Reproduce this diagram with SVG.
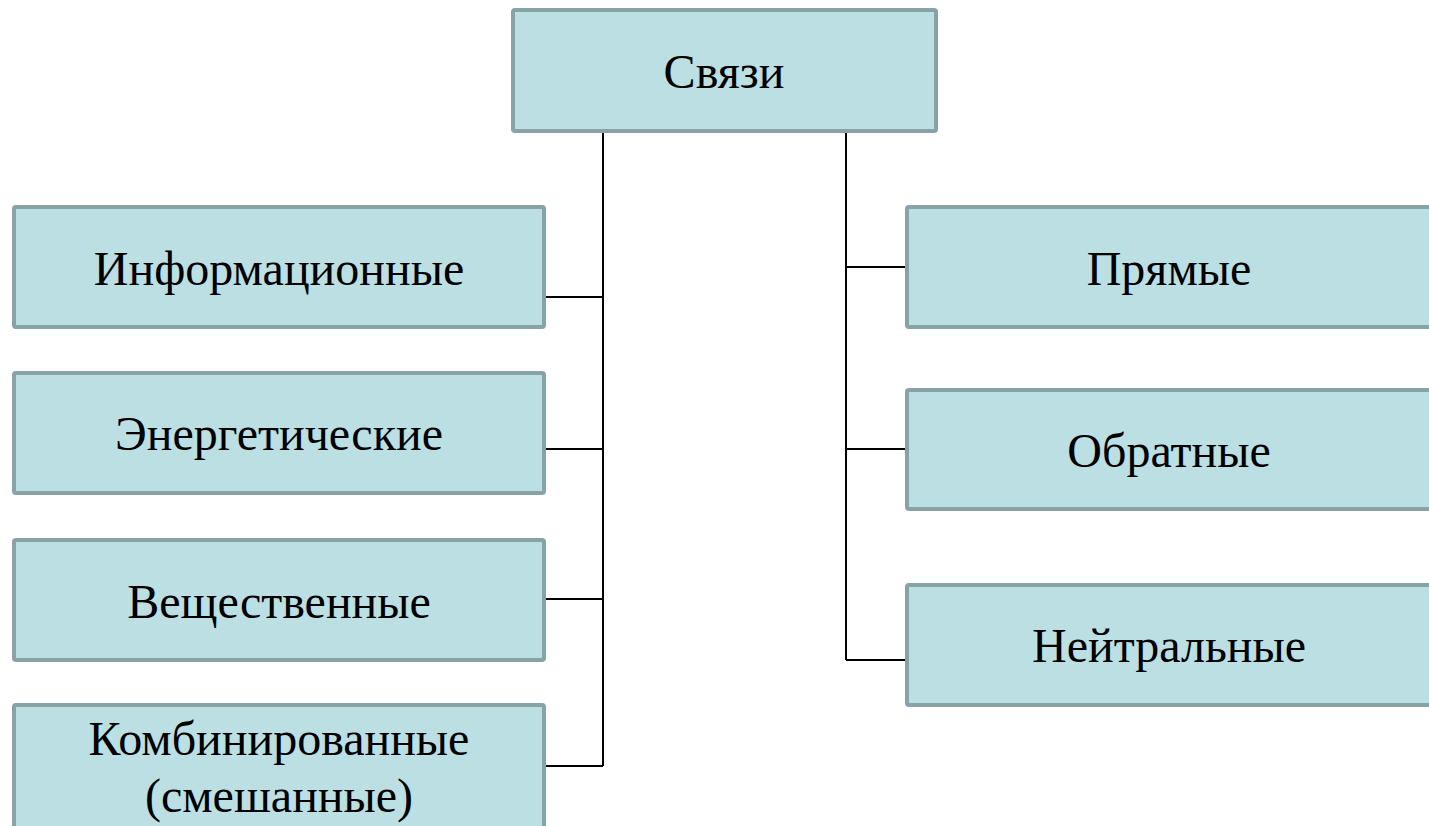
<svg xmlns="http://www.w3.org/2000/svg" width="1429" height="826" viewBox="0 0 1429 826">
<style>
.box{fill:#BBDFE3;stroke:#87A3A5;stroke-width:4}
.con{fill:none;stroke:#000;stroke-width:2}
.lbl{font-family:'Liberation Serif','Times New Roman',serif;font-size:48px;fill:#000;text-anchor:middle}
</style>
<rect width="1429" height="826" fill="#fff"/>
<g id="connectors">
<path class="con" d="M603,132 V766 M546,297 H603 M546,449 H603 M546,599 H603 M546,766 H603"/>
<path class="con" d="M846,132 V660 M846,267 H905 M846,449 H905 M846,660 H905"/>
</g>
<g id="n-svyazi"><rect class="box" x="513" y="10" width="423" height="121" rx="2"/><text class="lbl" x="724" y="88">Связи</text></g>
<g id="n-info"><rect class="box" x="14" y="207" width="530" height="120" rx="2"/><text class="lbl" x="279" y="285">Информационные</text></g>
<g id="n-energy"><rect class="box" x="14" y="373" width="530" height="120" rx="2"/><text class="lbl" x="279" y="450">Энергетические</text></g>
<g id="n-vesch"><rect class="box" x="14" y="540" width="530" height="120" rx="2"/><text class="lbl" x="279" y="618">Вещественные</text></g>
<g id="n-komb"><rect class="box" x="14" y="705" width="530" height="130" rx="2"/><text class="lbl" x="279" y="755">Комбинированные</text><text class="lbl" x="279" y="812">(смешанные)</text></g>
<g id="n-pryam"><rect class="box" x="907" y="207" width="540" height="120" rx="2"/><text class="lbl" x="1169" y="285">Прямые</text></g>
<g id="n-obrat"><rect class="box" x="907" y="390" width="540" height="119" rx="2"/><text class="lbl" x="1169" y="467">Обратные</text></g>
<g id="n-neitr"><rect class="box" x="907" y="585" width="540" height="120" rx="2"/><text class="lbl" x="1169" y="662">Нейтральные</text></g>
</svg>
